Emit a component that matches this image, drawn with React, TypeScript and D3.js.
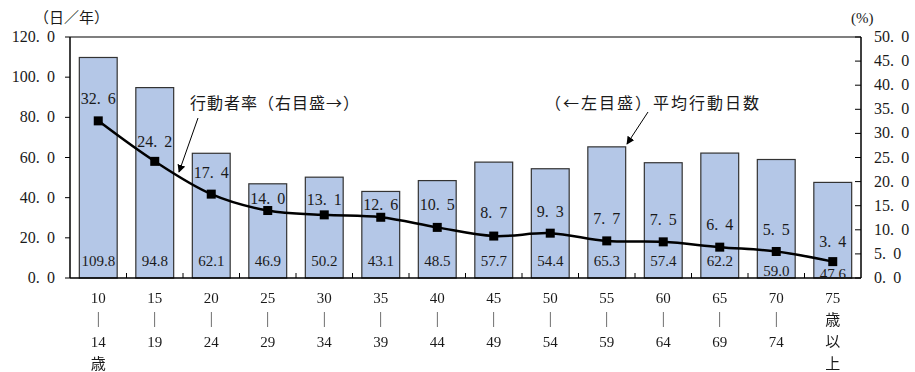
import React from "react";
import * as d3 from "d3";

const categories = [
  ["10", "｜", "14", "歳"],
  ["15", "｜", "19"],
  ["20", "｜", "24"],
  ["25", "｜", "29"],
  ["30", "｜", "34"],
  ["35", "｜", "39"],
  ["40", "｜", "44"],
  ["45", "｜", "49"],
  ["50", "｜", "54"],
  ["55", "｜", "59"],
  ["60", "｜", "64"],
  ["65", "｜", "69"],
  ["70", "｜", "74"],
  ["75", "歳", "以", "上"],
];
const avgDays = [109.8, 94.8, 62.1, 46.9, 50.2, 43.1, 48.5, 57.7, 54.4, 65.3, 57.4, 62.2, 59.0, 47.6];
const rate = [32.6, 24.2, 17.4, 14.0, 13.1, 12.6, 10.5, 8.7, 9.3, 7.7, 7.5, 6.4, 5.5, 3.4];
const leftTicks = [0, 20, 40, 60, 80, 100, 120];
const rightTicks = [0, 5, 10, 15, 20, 25, 30, 35, 40, 45, 50];

const W = 915, H = 372;
const L = 70, R = 861, T = 37, B = 278;
const FONT = "'Liberation Serif', 'Noto Sans CJK JP', serif";
const JFONT = "'Noto Sans CJK JP', 'Liberation Serif', serif";
const INK = "#1a1a1a";

// label placement tweaks (pixels above the point / bar-label baseline shifts)
const rateLabelLift = [23, 20, 22, 13, 16, 13, 23, 24, 22, 23, 23, 23, 22, 21];
const barLabelDrop = [0, 0, 0, 0, 0, 0, 0, 0, 0, 0, 0, 0, 10, 13];

// number drawn with a wide (Mincho-like) period gap
function GapNum(props: { v: number; x: number; y: number; anchor: string; size: number }) {
  const s = props.v.toFixed(1);
  const [a, b] = s.split(".");
  return (
    <text x={props.x} y={props.y} textAnchor={props.anchor as any} fontSize={props.size} fontFamily={FONT} fill={INK}>
      {a + "."}
      <tspan dx={props.size * 0.45}>{b}</tspan>
    </text>
  );
}

export default function App() {
  const idx = categories.map((_, i) => String(i));
  const x = d3.scaleBand().domain(idx).range([L, R]).paddingInner(0.33).paddingOuter(0.165);
  const yL = d3.scaleLinear().domain([0, 120]).range([B, T]);
  const yR = d3.scaleLinear().domain([0, 50]).range([B, T]);
  const cx = (i: number) => (x(String(i)) as number) + x.bandwidth() / 2;
  const line = d3
    .line<number>()
    .x((_, i) => cx(i))
    .y((d) => yR(d))
    .curve(d3.curveCatmullRom.alpha(0.5));
  const step = x.step();

  return (
    <svg width={W} height={H} style={{ position: "absolute", left: 0, top: 0, background: "#fff" }}>
      <defs>
        <marker id="ah" viewBox="0 0 10 10" refX="9" refY="5" markerWidth="8" markerHeight="8" orient="auto-start-reverse" markerUnits="userSpaceOnUse">
          <path d="M0,0 L10,5 L0,10 z" fill="#000" />
        </marker>
        <filter id="gs" x={0} y={0} width={W} height={H} filterUnits="userSpaceOnUse">
          <feOffset dx="0" dy="0" />
        </filter>
      </defs>
      {/* bars */}
      {avgDays.map((v, i) => (
        <rect
          key={"b" + i}
          x={x(String(i))}
          y={yL(v)}
          width={x.bandwidth()}
          height={B - yL(v)}
          fill="#b4c7e7"
          stroke="#333"
          strokeWidth={1.2}
        />
      ))}
      {/* frame */}
      <line x1={L} x2={R} y1={T} y2={T} stroke="#000" strokeWidth={1.2} />
      <line x1={L} x2={L} y1={T} y2={B} stroke="#000" strokeWidth={1.5} />
      <line x1={R} x2={R} y1={T} y2={B} stroke="#000" strokeWidth={1.5} />
      <line x1={L} x2={R} y1={B} y2={B} stroke="#000" strokeWidth={1.5} />
      {/* left ticks */}
      {leftTicks.map((t) => (
        <g key={"lt" + t}>
          <line x1={L - 5} x2={L} y1={yL(t)} y2={yL(t)} stroke="#000" />
          <GapNum v={t} x={55} y={yL(t) + 5} anchor="end" size={16} />
        </g>
      ))}
      {/* right ticks */}
      {rightTicks.map((t) => (
        <g key={"rt" + t}>
          <line x1={R - 6} x2={R} y1={yR(t)} y2={yR(t)} stroke="#000" />
          <GapNum v={t} x={874} y={yR(t) + 5} anchor="start" size={16} />
        </g>
      ))}
      {/* x ticks at boundaries */}
      {categories.slice(1).map((_, i) => (
        <line key={"xt" + i} x1={L + step * (i + 1)} x2={L + step * (i + 1)} y1={B} y2={B - 5} stroke="#000" />
      ))}
      {/* x labels */}
      <g filter="url(#gs)">
        {categories.map((lines, i) => (
          <text key={"xl" + i} x={cx(i)} textAnchor="middle" fontSize={15} fontFamily={FONT} fill={INK}>
            {lines.map((s, j) => (
              <tspan key={j} x={cx(i)} y={303 + j * 22} fontFamily={/[0-9]/.test(s) ? FONT : JFONT}>
                {s}
              </tspan>
            ))}
          </text>
        ))}
      </g>
      {/* bar labels */}
      {avgDays.map((v, i) => (
        <text key={"bl" + i} x={cx(i)} y={266 + barLabelDrop[i]} textAnchor="middle" fontSize={15} fontFamily={FONT} fill={INK}>
          {v.toFixed(1)}
        </text>
      ))}
      {/* line */}
      <path d={line(rate) || ""} fill="none" stroke="#000" strokeWidth={2.5} />
      {rate.map((v, i) => (
        <rect key={"m" + i} x={cx(i) - 4.5} y={yR(v) - 4.5} width={9} height={9} fill="#000" />
      ))}
      {rate.map((v, i) => (
        <GapNum key={"rl" + i} v={v} x={cx(i)} y={yR(v) - rateLabelLift[i] + 6} anchor="middle" size={16} />
      ))}
      {/* unit labels */}
      <text x={34} y={23} fontSize={15} fontFamily={JFONT} fill={INK}>（日／年）</text>
      <text x={851} y={23} fontSize={15} fontFamily={FONT} fill={INK}>(%)</text>
      {/* annotations */}
      <text x={190} y={109} fontSize={16} letterSpacing={1} fontFamily={JFONT} fill={INK}>行動者率（右目盛→）</text>
      <line x1={198} y1={118} x2={179} y2={172} stroke="#000" strokeWidth={1} markerEnd="url(#ah)" />
      <text x={545} y={109} fontSize={16} letterSpacing={2} fontFamily={JFONT} fill={INK}>（←左目盛）平均行動日数</text>
      <line x1={648} y1={112} x2={627} y2={144} stroke="#000" strokeWidth={1} markerEnd="url(#ah)" />
    </svg>
  );
}
